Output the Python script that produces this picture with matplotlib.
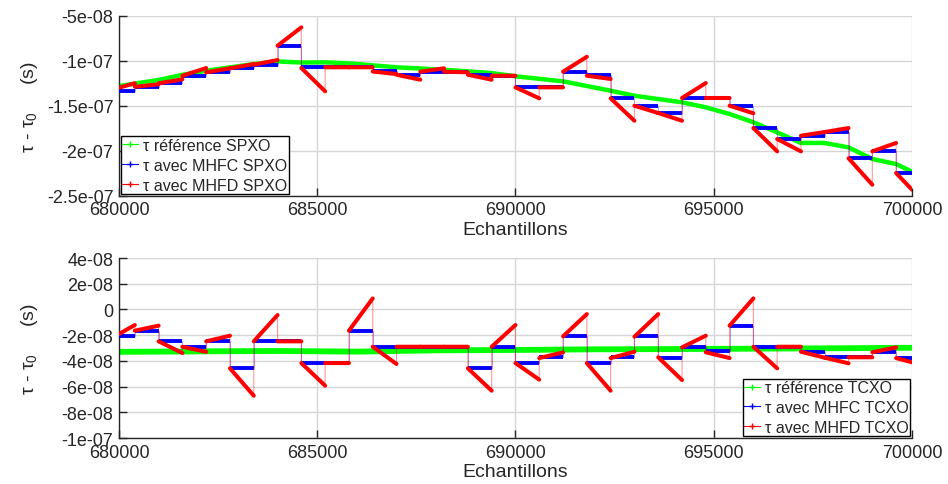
import numpy as np
import matplotlib
matplotlib.use('Agg')
import matplotlib.pyplot as plt
from matplotlib.lines import Line2D

plt.rcParams['font.family'] = ['Liberation Sans', 'DejaVu Sans']
plt.rcParams['mathtext.fontset'] = 'custom'
plt.rcParams['mathtext.rm'] = 'Liberation Sans'
plt.rcParams['mathtext.it'] = 'Liberation Sans'

# window edges (samples)
seg_edges = [680000, 680400, 681000, 681600, 682200, 682800, 683400, 684000, 684600,
             685200, 685800, 686400, 687000, 687600, 688200, 688800, 689400, 690000,
             690600, 691200, 691800, 692400, 693000, 693600, 694200, 694800, 695400,
             696000, 696600, 697200, 697800, 698400, 699000, 699600, 700000]

# SPXO (ns)
spxo_ref_x = [680000, 681000, 681600, 682200, 683400, 684000, 684600, 685200, 685800,
              687000, 688200, 689400, 690000, 691200, 692400, 693000, 694200, 694800,
              695400, 696000, 696600, 697200, 697800, 698400, 699000, 699600, 700000]
spxo_ref = [-128.1, -121.4, -115.6, -111.1, -103.7, -100.8, -102.0, -101.8, -102.9,
            -107.3, -110.0, -113.7, -117.3, -122.9, -133.3, -138.9, -146.2, -151.8,
            -159.2, -168.4, -179.6, -191.4, -191.4, -196.3, -209.2, -214.8, -223.3]
spxo_mhfc = [-133.3, -128.9, -125.1, -116.7, -112.9, -108.4, -104.4, -83.3, -107.3,
             -107.3, -107.3, -111.4, -115.6, -112.2, -112.2, -115.6, -116.7, -129.6,
             -129.6, -112.2, -115.9, -141.8, -150.0, -158.1, -141.4, -141.4, -150.0,
             -174.8, -187.0, -183.3, -179.6, -208.4, -200.7, -224.8]
spxo_mhfd_start = [-130.0, -128.9, -125.1, -116.7, -112.9, -108.4, -104.4, -83.3, -108.1,
                   -107.3, -107.3, -112.0, -115.6, -112.2, -112.2, -115.6, -116.7, -129.6,
                   -129.6, -112.2, -116.7, -141.8, -150.0, -158.1, -141.4, -141.4, -150.0,
                   -174.8, -187.0, -183.3, -179.2, -208.4, -200.7, -224.8]
spxo_mhfd_end = [-125.0, -126.2, -120.7, -108.1, -108.4, -103.7, -99.2, -62.9, -134.0,
                 -107.3, -107.3, -114.8, -121.1, -108.4, -112.9, -121.1, -116.7, -141.8,
                 -129.6, -95.6, -120.3, -166.7, -158.1, -166.7, -124.8, -141.4, -158.4,
                 -200.7, -200.7, -179.2, -174.8, -237.8, -191.4, -243.3]

# TCXO (ns)
tcxo_ref_x = [680000, 682000, 684000, 686000, 688000, 690000, 692000, 694000, 696000, 698000, 700000]
tcxo_ref = [-33.0, -32.6, -32.3, -32.8, -31.8, -31.5, -31.0, -30.8, -30.5, -30.2, -29.8]
tcxo_mhfc = [-20.9, -16.5, -24.8, -29.0, -24.8, -45.8, -24.8, -24.8, -41.7, -41.7,
             -16.5, -29.0, -29.0, -29.0, -29.0, -45.8, -29.0, -41.7, -37.2, -20.9,
             -41.7, -37.2, -20.4, -37.8, -29.0, -32.6, -12.6, -29.0, -29.0, -32.9,
             -37.2, -37.2, -33.3, -37.8]
tcxo_mhfd_start = [-19.1, -16.5, -24.8, -29.0, -24.8, -45.8, -24.8, -24.8, -41.7, -41.7,
                   -16.5, -29.0, -29.0, -29.0, -29.0, -45.8, -29.0, -41.7, -37.8, -20.9,
                   -41.7, -37.8, -21.2, -37.2, -29.5, -33.3, -12.6, -29.0, -29.0, -32.9,
                   -37.5, -37.2, -33.3, -37.8]
tcxo_mhfd_end = [-12.1, -12.6, -33.9, -33.0, -20.4, -67.1, -4.3, -24.8, -59.3, -41.7,
                 8.6, -42.4, -29.0, -29.0, -29.0, -63.2, -12.1, -54.6, -33.4, -3.6,
                 -63.2, -32.9, -3.6, -54.9, -20.4, -37.8, 8.6, -45.8, -29.0, -37.5,
                 -41.9, -37.2, -29.5, -41.1]

xticks = [680000, 685000, 690000, 695000, 700000]
xticklabels = ['680000', '685000', '690000', '695000', '700000']
top_yticks = [-5e-08, -1e-07, -1.5e-07, -2e-07, -2.5e-07]
top_yticklabels = ['-5e-08', '-1e-07', '-1.5e-07', '-2e-07', '-2.5e-07']
bot_yticks = [4e-08, 2e-08, 0, -2e-08, -4e-08, -6e-08, -8e-08, -1e-07]
bot_yticklabels = ['4e-08', '2e-08', '0', '-2e-08', '-4e-08', '-6e-08', '-8e-08', '-1e-07']

txt = '#262626'


def seg_xy(start, end):
    xs, ys = [], []
    for i in range(len(start)):
        xs += [seg_edges[i], seg_edges[i + 1], np.nan]
        ys += [start[i] * 1e-9, end[i] * 1e-9, np.nan]
    return xs, ys


def joined_xy(start, end):
    xs, ys = [], []
    for i in range(len(start)):
        xs += [seg_edges[i], seg_edges[i + 1]]
        ys += [start[i] * 1e-9, end[i] * 1e-9]
    return xs, ys


def draw(ax, ref_x, ref, mhfc, mhfd_s, mhfd_e, green_lw):
    ax.plot(ref_x, np.array(ref) * 1e-9, color='#00ff00', lw=green_lw, zorder=2)
    jx, jy = joined_xy(mhfc, mhfc)
    ax.plot(jx, jy, color='#0000ff', lw=0.8, alpha=0.35, zorder=3)
    sx, sy = seg_xy(mhfc, mhfc)
    ax.plot(sx, sy, color='#0000ff', lw=2.8, solid_capstyle='butt', zorder=3)
    jx, jy = joined_xy(mhfd_s, mhfd_e)
    ax.plot(jx, jy, color='#ff0000', lw=0.8, alpha=0.4, zorder=4)
    sx, sy = seg_xy(mhfd_s, mhfd_e)
    ax.plot(sx, sy, color='#ff0000', lw=2.9, solid_capstyle='round', zorder=4)


def style(ax, yticks, ylabels, ylim):
    ax.set_xlim(680000, 700000)
    ax.set_ylim(*ylim)
    ax.set_xticks(xticks)
    ax.set_xticklabels(xticklabels)
    ax.set_yticks(yticks)
    ax.set_yticklabels(ylabels)
    ax.grid(True, color='#d6d6d6', lw=1.0)
    ax.set_axisbelow(True)
    for s in ['top', 'right']:
        ax.spines[s].set_visible(False)
    for s in ['left', 'bottom']:
        ax.spines[s].set_color(txt)
        ax.spines[s].set_linewidth(1.0)
    ax.tick_params(direction='in', length=6, width=1, color=txt, labelcolor=txt,
                   labelsize=13, pad=4)
    ax.set_xlabel('Echantillons', fontsize=14, color=txt, labelpad=2)
    ax.set_ylabel(r'τ - τ$_0$     (s)', fontsize=14, color=txt)
    ax.yaxis.set_label_coords(-0.1, 0.5)


fig = plt.figure(figsize=(9.48, 4.85), dpi=100)
ax1 = fig.add_axes([0.1255, 0.5944, 0.8365, 0.3711])
ax2 = fig.add_axes([0.1255, 0.0948, 0.8365, 0.3711])

draw(ax1, spxo_ref_x, spxo_ref, spxo_mhfc, spxo_mhfd_start, spxo_mhfd_end, 3.2)
draw(ax2, tcxo_ref_x, tcxo_ref, tcxo_mhfc, tcxo_mhfd_start, tcxo_mhfd_end, 4.2)
style(ax1, top_yticks, top_yticklabels, (-2.5e-07, -5e-08))
style(ax2, bot_yticks, bot_yticklabels, (-1e-07, 4e-08))


def legend(ax, names, loc):
    handles = [Line2D([], [], color=c, lw=0.8, marker='+', markersize=5)
               for c in ['#00ff00', '#0000ff', '#ff0000']]
    lg = ax.legend(handles, names, loc=loc, fontsize=11.5, fancybox=False,
                   framealpha=1, edgecolor='#000000', borderpad=0.1,
                   labelspacing=0.3, handlelength=1.0, handletextpad=0.3,
                   borderaxespad=0.1)
    lg.get_frame().set_linewidth(1.0)
    for t in lg.get_texts():
        t.set_color(txt)
    lg.set_zorder(10)


legend(ax1, ['τ référence SPXO', 'τ avec MHFC SPXO', 'τ avec MHFD SPXO'], 'lower left')
legend(ax2, ['τ référence TCXO', 'τ avec MHFC TCXO', 'τ avec MHFD TCXO'], 'lower right')

fig.savefig('out.png', dpi=100)
